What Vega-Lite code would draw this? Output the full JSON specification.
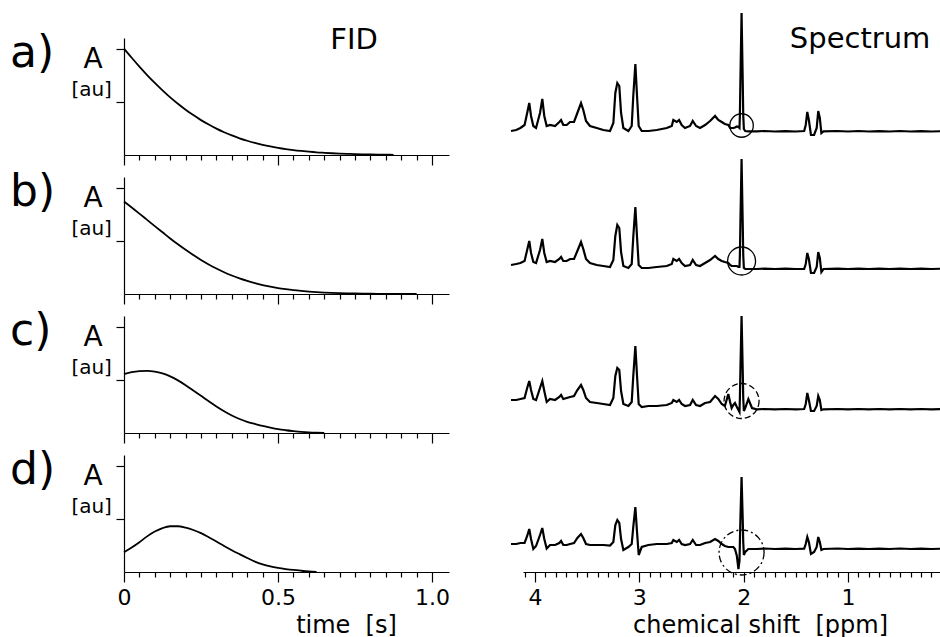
{
  "$schema": "https://vega.github.io/schema/vega-lite/v6.json",
  "padding": {"left": 10, "top": 8, "right": 0, "bottom": 0},
  "background": "white",
  "columns": 2,
  "spacing": {"row": 22, "column": 74},
  "bounds": "flush",
  "align": "each",
  "datasets": {
    "fid": [
      {"t": 0, "a": 1.0, "b": 0.87, "c": 0.553, "d": 0.186},
      {"t": 0.025, "a": 0.914, "b": 0.814, "c": 0.572, "d": 0.23},
      {"t": 0.05, "a": 0.831, "b": 0.756, "c": 0.582, "d": 0.28},
      {"t": 0.075, "a": 0.752, "b": 0.697, "c": 0.585, "d": 0.335},
      {"t": 0.1, "a": 0.678, "b": 0.638, "c": 0.578, "d": 0.38},
      {"t": 0.125, "a": 0.608, "b": 0.58, "c": 0.56, "d": 0.413},
      {"t": 0.15, "a": 0.542, "b": 0.522, "c": 0.532, "d": 0.43},
      {"t": 0.175, "a": 0.482, "b": 0.467, "c": 0.495, "d": 0.43},
      {"t": 0.2, "a": 0.426, "b": 0.415, "c": 0.45, "d": 0.417},
      {"t": 0.225, "a": 0.375, "b": 0.366, "c": 0.4, "d": 0.395},
      {"t": 0.25, "a": 0.328, "b": 0.32, "c": 0.35, "d": 0.365},
      {"t": 0.275, "a": 0.286, "b": 0.278, "c": 0.298, "d": 0.327},
      {"t": 0.3, "a": 0.248, "b": 0.24, "c": 0.25, "d": 0.287},
      {"t": 0.325, "a": 0.214, "b": 0.205, "c": 0.205, "d": 0.245},
      {"t": 0.35, "a": 0.184, "b": 0.174, "c": 0.165, "d": 0.205},
      {"t": 0.375, "a": 0.157, "b": 0.1465, "c": 0.132, "d": 0.168},
      {"t": 0.4, "a": 0.134, "b": 0.123, "c": 0.105, "d": 0.132},
      {"t": 0.425, "a": 0.1135, "b": 0.1018, "c": 0.085, "d": 0.098},
      {"t": 0.45, "a": 0.0957, "b": 0.0838, "c": 0.066, "d": 0.072},
      {"t": 0.475, "a": 0.0803, "b": 0.0686, "c": 0.05, "d": 0.053},
      {"t": 0.5, "a": 0.067, "b": 0.0556, "c": 0.036, "d": 0.039},
      {"t": 0.525, "a": 0.0556, "b": 0.045, "c": 0.026, "d": 0.028},
      {"t": 0.55, "a": 0.046, "b": 0.0358, "c": 0.018, "d": 0.019},
      {"t": 0.575, "a": 0.038, "b": 0.0285, "c": 0.011, "d": 0.012},
      {"t": 0.6, "a": 0.031, "b": 0.0224, "c": 0.006, "d": 0.006},
      {"t": 0.625, "a": 0.025, "b": 0.0175, "c": 0.003, "d": 0.002},
      {"t": 0.65, "a": 0.0206, "b": 0.0136, "c": 0.001, "d": null},
      {"t": 0.675, "a": 0.0166, "b": 0.0105, "c": null, "d": null},
      {"t": 0.7, "a": 0.0134, "b": 0.008, "c": null, "d": null},
      {"t": 0.725, "a": 0.0107, "b": 0.006, "c": null, "d": null},
      {"t": 0.75, "a": 0.0086, "b": 0.0045, "c": null, "d": null},
      {"t": 0.775, "a": 0.0068, "b": 0.0034, "c": null, "d": null},
      {"t": 0.8, "a": 0.0053, "b": 0.0025, "c": null, "d": null},
      {"t": 0.825, "a": 0.004, "b": 0.0018, "c": null, "d": null},
      {"t": 0.85, "a": 0.003, "b": 0.0013, "c": null, "d": null},
      {"t": 0.875, "a": 0.002, "b": 0.0009, "c": null, "d": null},
      {"t": 0.9, "a": null, "b": 0.0006, "c": null, "d": null},
      {"t": 0.925, "a": null, "b": 0.0003, "c": null, "d": null},
      {"t": 0.95, "a": null, "b": 0, "c": null, "d": null}
    ],
    "spec": [
      {"p": 4.23, "a": -1, "b": 4, "c": 8, "d": 3},
      {"p": 4.18, "a": 0, "b": 5, "c": 8, "d": 3},
      {"p": 4.14, "a": 2, "b": 6, "c": 9, "d": 4},
      {"p": 4.1, "a": 5, "b": 8, "c": 10, "d": 4},
      {"p": 4.075, "a": 17, "b": 19, "c": 20, "d": 11},
      {"p": 4.055, "a": 27, "b": 28, "c": 27, "d": 18},
      {"p": 4.038, "a": 14, "b": 16, "c": 18, "d": 8},
      {"p": 4.016, "a": 4, "b": 7, "c": 9, "d": -2},
      {"p": 3.99, "a": 2, "b": 6, "c": 8, "d": 1},
      {"p": 3.952, "a": 17, "b": 19, "c": 20, "d": 12},
      {"p": 3.93, "a": 31, "b": 30, "c": 27, "d": 19},
      {"p": 3.911, "a": 14, "b": 16, "c": 17, "d": 8},
      {"p": 3.888, "a": 4, "b": 7, "c": 6, "d": -1.5},
      {"p": 3.856, "a": 5, "b": 8, "c": 9, "d": 2},
      {"p": 3.808, "a": 4, "b": 7, "c": 8, "d": 2},
      {"p": 3.767, "a": 8, "b": 10, "c": 11, "d": 4},
      {"p": 3.75, "a": 10, "b": 12, "c": 13, "d": 6},
      {"p": 3.729, "a": 5, "b": 8, "c": 9, "d": 2},
      {"p": 3.696, "a": 5, "b": 8, "c": 10, "d": 2},
      {"p": 3.664, "a": 8, "b": 10, "c": 11, "d": 3},
      {"p": 3.626, "a": 8, "b": 10, "c": 12, "d": 4},
      {"p": 3.594, "a": 17, "b": 18, "c": 18, "d": 9},
      {"p": 3.559, "a": 27, "b": 27, "c": 23, "d": 13},
      {"p": 3.537, "a": 20, "b": 20, "c": 18, "d": 9},
      {"p": 3.511, "a": 9, "b": 10, "c": 10, "d": 3},
      {"p": 3.473, "a": 4, "b": 6, "c": 6, "d": 2},
      {"p": 3.408, "a": 2, "b": 4, "c": 5, "d": 2},
      {"p": 3.345, "a": 0, "b": 3, "c": 4, "d": 2},
      {"p": 3.281, "a": -1, "b": 2, "c": 3, "d": 1.5},
      {"p": 3.249, "a": 7, "b": 9, "c": 10, "d": 5},
      {"p": 3.23, "a": 37, "b": 33, "c": 32, "d": 22},
      {"p": 3.211, "a": 47, "b": 44, "c": 40, "d": 27},
      {"p": 3.192, "a": 44, "b": 41, "c": 38, "d": 24},
      {"p": 3.175, "a": 17, "b": 17, "c": 17, "d": 8},
      {"p": 3.153, "a": 2, "b": 3, "c": 4, "d": -3},
      {"p": 3.105, "a": -1, "b": 1, "c": 2, "d": 0},
      {"p": 3.073, "a": 4, "b": 5, "c": 6, "d": 3},
      {"p": 3.058, "a": 34, "b": 32, "c": 32, "d": 20},
      {"p": 3.038, "a": 66, "b": 62, "c": 62, "d": 40},
      {"p": 3.022, "a": 34, "b": 32, "c": 32, "d": 15},
      {"p": 3.006, "a": 4, "b": 4, "c": 4, "d": -8},
      {"p": 2.977, "a": -1, "b": 1, "c": 1, "d": 0},
      {"p": 2.914, "a": -1, "b": 1, "c": 2, "d": 2},
      {"p": 2.833, "a": 0, "b": 2, "c": 2, "d": 3},
      {"p": 2.737, "a": 2, "b": 3, "c": 3, "d": 3},
      {"p": 2.689, "a": 4, "b": 5, "c": 5, "d": 4},
      {"p": 2.674, "a": 10, "b": 10, "c": 8, "d": 7},
      {"p": 2.641, "a": 8, "b": 8, "c": 6, "d": 5},
      {"p": 2.619, "a": 10, "b": 10, "c": 8, "d": 7},
      {"p": 2.594, "a": 5, "b": 6, "c": 4, "d": 3},
      {"p": 2.562, "a": 2, "b": 3, "c": 2, "d": 2},
      {"p": 2.514, "a": 4, "b": 4, "c": 3, "d": 3},
      {"p": 2.488, "a": 9, "b": 9, "c": 8, "d": 7},
      {"p": 2.456, "a": 4, "b": 4, "c": 3, "d": 2},
      {"p": 2.418, "a": 2, "b": 3, "c": 2, "d": 2},
      {"p": 2.37, "a": 5, "b": 6, "c": 5, "d": 4},
      {"p": 2.322, "a": 9, "b": 9, "c": 6, "d": 5},
      {"p": 2.274, "a": 14, "b": 13, "c": 12, "d": 8},
      {"p": 2.243, "a": 10, "b": 10, "c": 9, "d": 6},
      {"p": 2.21, "a": 8, "b": 8, "c": 4, "d": 3},
      {"p": 2.18, "a": 6, "b": 7, "c": 2, "d": 1},
      {"p": 2.147, "a": 5, "b": 6, "c": 14, "d": 0},
      {"p": 2.13, "a": 2, "b": 4, "c": 6, "d": 0},
      {"p": 2.115, "a": 2, "b": 3, "c": 0, "d": 0},
      {"p": 2.099, "a": 2, "b": 3, "c": 3, "d": 0},
      {"p": 2.083, "a": 2.5, "b": 3, "c": 5, "d": -2},
      {"p": 2.065, "a": 3.5, "b": 3, "c": 1, "d": -9},
      {"p": 2.05, "a": 3, "b": 2, "c": -2, "d": -22},
      {"p": 2.04, "a": 2, "b": 2, "c": -4, "d": -14},
      {"p": 2.036, "a": 15, "b": 14, "c": 10, "d": 5},
      {"p": 2.031, "a": 50, "b": 46, "c": 38, "d": 28},
      {"p": 2.02, "a": 117, "b": 110, "c": 92, "d": 70},
      {"p": 2.009, "a": 50, "b": 46, "c": 38, "d": 28},
      {"p": 2.004, "a": 15, "b": 14, "c": 10, "d": 5},
      {"p": 1.998, "a": 1, "b": 1, "c": -3, "d": -8},
      {"p": 1.985, "a": -1, "b": 0, "c": 0, "d": -5},
      {"p": 1.955, "a": -1.3, "b": 0, "c": 9, "d": -2},
      {"p": 1.92, "a": -1.3, "b": 0, "c": 0, "d": -2},
      {"p": 1.875, "a": -1.3, "b": 0, "c": -1.3, "d": -2},
      {"p": 1.8, "a": -1, "b": 0.3, "c": -1, "d": -1.5},
      {"p": 1.7, "a": -1.5, "b": 0, "c": -1.3, "d": -2},
      {"p": 1.6, "a": -1.2, "b": 0.3, "c": -1, "d": -1.7},
      {"p": 1.5, "a": -1.5, "b": 0, "c": -1.3, "d": -2},
      {"p": 1.42, "a": -1, "b": 0, "c": -1, "d": -1.7},
      {"p": 1.405, "a": 5, "b": 5, "c": 4, "d": 3},
      {"p": 1.39, "a": 18, "b": 16, "c": 15, "d": 10},
      {"p": 1.375, "a": 10, "b": 10, "c": 8, "d": 5},
      {"p": 1.355, "a": -5, "b": -4, "c": -3, "d": -7},
      {"p": 1.325, "a": -5, "b": -4, "c": -3, "d": -5},
      {"p": 1.3, "a": 2, "b": 2, "c": 2, "d": 0},
      {"p": 1.285, "a": 19, "b": 17, "c": 12, "d": 10},
      {"p": 1.27, "a": 12, "b": 11, "c": 8, "d": 5},
      {"p": 1.255, "a": -3, "b": -3, "c": -2, "d": -3},
      {"p": 1.235, "a": -1.3, "b": 0, "c": -1.3, "d": -2},
      {"p": 1.1, "a": -1, "b": 0.3, "c": -1, "d": -1.5},
      {"p": 1.0, "a": -1.5, "b": 0, "c": -1.3, "d": -2},
      {"p": 0.9, "a": -1, "b": 0.3, "c": -1, "d": -1.7},
      {"p": 0.8, "a": -1.5, "b": 0, "c": -1.3, "d": -2},
      {"p": 0.7, "a": -1.2, "b": 0.3, "c": -1, "d": -1.7},
      {"p": 0.6, "a": -1.5, "b": 0, "c": -1.3, "d": -2},
      {"p": 0.5, "a": -1, "b": 0.3, "c": -1, "d": -1.5},
      {"p": 0.4, "a": -1.5, "b": 0, "c": -1.3, "d": -2},
      {"p": 0.3, "a": -1.2, "b": 0.3, "c": -1, "d": -1.7},
      {"p": 0.2, "a": -1.5, "b": 0, "c": -1.3, "d": -2},
      {"p": 0.1, "a": -1.2, "b": 0.3, "c": -1, "d": -1.7}
    ]
  },
  "concat": [
    {
      "width": 325, "height": 117,
      "resolve": {"axis": {"x": "independent", "y": "independent"}},
      "layer": [
        {"data": {"name": "fid"}, "mark": {"type": "line", "color": "#000", "strokeWidth": 1.8, "interpolate": "monotone"},
         "encoding": {
           "x": {"field": "t", "type": "quantitative", "scale": {"domain": [0, 1.055], "nice": false, "zero": false},
                 "axis": {"values": [0,0.05,0.1,0.15,0.2,0.25,0.3,0.35,0.4,0.45,0.5,0.55,0.6,0.65,0.7,0.75,0.8,0.85,0.9,0.95,1], "tickSize": {"condition": {"test": "datum.value % 0.5 === 0", "value": 10}, "value": 5}, "labels": false, "title": null}},
           "y": {"field": "a", "type": "quantitative", "scale": {"domain": [0, 1.1], "nice": false}, "axis": {"values": [0.5, 1], "tickSize": 8, "labels": false, "title": null}}}},
        {"data": {"values": [{"label": "a)"}]}, "mark": {"type": "text", "fontSize": 44, "align": "left", "baseline": "alphabetic"},
         "encoding": {"x": {"datum": -0.37, "type": "quantitative", "axis": null}, "y": {"datum": 0.83, "type": "quantitative", "axis": null}, "text": {"field": "label"}}},
        {"data": {"values": [{"label": "A"}]}, "mark": {"type": "text", "fontSize": 28, "align": "center", "baseline": "alphabetic"},
         "encoding": {"x": {"datum": -0.1, "type": "quantitative", "axis": null}, "y": {"datum": 0.82, "type": "quantitative", "axis": null}, "text": {"field": "label"}}},
        {"data": {"values": [{"label": "[au]"}]}, "mark": {"type": "text", "fontSize": 20, "align": "center", "baseline": "alphabetic"},
         "encoding": {"x": {"datum": -0.105, "type": "quantitative", "axis": null}, "y": {"datum": 0.553, "type": "quantitative", "axis": null}, "text": {"field": "label"}}},
        {"data": {"values": [{"label": "FID"}]}, "mark": {"type": "text", "fontSize": 29, "align": "center", "baseline": "alphabetic"},
         "encoding": {"x": {"datum": 0.747, "type": "quantitative", "axis": null}, "y": {"datum": 1.0, "type": "quantitative", "axis": null}, "text": {"field": "label"}}}
      ]
    },
    {
      "width": 417, "height": 117,
      "resolve": {"axis": {"x": "independent", "y": "independent"}},
      "layer": [
        {"data": {"name": "spec"}, "mark": {"type": "line", "color": "#000", "strokeWidth": 2.2},
         "encoding": {
           "x": {"field": "p", "type": "quantitative", "scale": {"domain": [0.118, 4.115], "reverse": true, "nice": false, "zero": false}, "axis": null},
           "y": {"field": "a", "type": "quantitative", "scale": {"domain": [-25, 92], "nice": false, "zero": false}, "axis": null}}},
        {"data": {"values": [{}]}, "mark": {"type": "point", "shape": "circle", "filled": false, "color": "#000", "strokeWidth": 1.3, "size": 552, "opacity": 1},
         "encoding": {"x": {"datum": 2.02, "type": "quantitative", "axis": null}, "y": {"datum": 4.5, "type": "quantitative", "axis": null}}},
        {"data": {"values": [{"label": "Spectrum"}]}, "mark": {"type": "text", "fontSize": 29, "align": "center", "baseline": "alphabetic"},
         "encoding": {"x": {"datum": 0.884, "type": "quantitative", "axis": null}, "y": {"datum": 82, "type": "quantitative", "axis": null}, "text": {"field": "label"}}}
      ]
    },
    {
      "width": 325, "height": 117,
      "resolve": {"axis": {"x": "independent", "y": "independent"}},
      "layer": [
        {"data": {"name": "fid"}, "mark": {"type": "line", "color": "#000", "strokeWidth": 1.8, "interpolate": "monotone"},
         "encoding": {
           "x": {"field": "t", "type": "quantitative", "scale": {"domain": [0, 1.055], "nice": false, "zero": false},
                 "axis": {"values": [0,0.05,0.1,0.15,0.2,0.25,0.3,0.35,0.4,0.45,0.5,0.55,0.6,0.65,0.7,0.75,0.8,0.85,0.9,0.95,1], "tickSize": {"condition": {"test": "datum.value % 0.5 === 0", "value": 10}, "value": 5}, "labels": false, "title": null}},
           "y": {"field": "b", "type": "quantitative", "scale": {"domain": [0, 1.1], "nice": false}, "axis": {"values": [0.5, 1], "tickSize": 8, "labels": false, "title": null}}}},
        {"data": {"values": [{"label": "b)"}]}, "mark": {"type": "text", "fontSize": 44, "align": "left", "baseline": "alphabetic"},
         "encoding": {"x": {"datum": -0.37, "type": "quantitative", "axis": null}, "y": {"datum": 0.83, "type": "quantitative", "axis": null}, "text": {"field": "label"}}},
        {"data": {"values": [{"label": "A"}]}, "mark": {"type": "text", "fontSize": 28, "align": "center", "baseline": "alphabetic"},
         "encoding": {"x": {"datum": -0.1, "type": "quantitative", "axis": null}, "y": {"datum": 0.82, "type": "quantitative", "axis": null}, "text": {"field": "label"}}},
        {"data": {"values": [{"label": "[au]"}]}, "mark": {"type": "text", "fontSize": 20, "align": "center", "baseline": "alphabetic"},
         "encoding": {"x": {"datum": -0.105, "type": "quantitative", "axis": null}, "y": {"datum": 0.553, "type": "quantitative", "axis": null}, "text": {"field": "label"}}}
      ]
    },
    {
      "width": 417, "height": 117,
      "resolve": {"axis": {"x": "independent", "y": "independent"}},
      "layer": [
        {"data": {"name": "spec"}, "mark": {"type": "line", "color": "#000", "strokeWidth": 2.2},
         "encoding": {
           "x": {"field": "p", "type": "quantitative", "scale": {"domain": [0.118, 4.115], "reverse": true, "nice": false, "zero": false}, "axis": null},
           "y": {"field": "b", "type": "quantitative", "scale": {"domain": [-25, 92], "nice": false, "zero": false}, "axis": null}}},
        {"data": {"values": [{}]}, "mark": {"type": "point", "shape": "circle", "filled": false, "color": "#000", "strokeWidth": 1.3, "size": 784, "opacity": 1},
         "encoding": {"x": {"datum": 2.02, "type": "quantitative", "axis": null}, "y": {"datum": 8, "type": "quantitative", "axis": null}}}
      ]
    },
    {
      "width": 325, "height": 117,
      "resolve": {"axis": {"x": "independent", "y": "independent"}},
      "layer": [
        {"data": {"name": "fid"}, "mark": {"type": "line", "color": "#000", "strokeWidth": 1.8, "interpolate": "monotone"},
         "encoding": {
           "x": {"field": "t", "type": "quantitative", "scale": {"domain": [0, 1.055], "nice": false, "zero": false},
                 "axis": {"values": [0,0.05,0.1,0.15,0.2,0.25,0.3,0.35,0.4,0.45,0.5,0.55,0.6,0.65,0.7,0.75,0.8,0.85,0.9,0.95,1], "tickSize": {"condition": {"test": "datum.value % 0.5 === 0", "value": 10}, "value": 5}, "labels": false, "title": null}},
           "y": {"field": "c", "type": "quantitative", "scale": {"domain": [0, 1.1], "nice": false}, "axis": {"values": [0.5, 1], "tickSize": 8, "labels": false, "title": null}}}},
        {"data": {"values": [{"label": "c)"}]}, "mark": {"type": "text", "fontSize": 44, "align": "left", "baseline": "alphabetic"},
         "encoding": {"x": {"datum": -0.37, "type": "quantitative", "axis": null}, "y": {"datum": 0.83, "type": "quantitative", "axis": null}, "text": {"field": "label"}}},
        {"data": {"values": [{"label": "A"}]}, "mark": {"type": "text", "fontSize": 28, "align": "center", "baseline": "alphabetic"},
         "encoding": {"x": {"datum": -0.1, "type": "quantitative", "axis": null}, "y": {"datum": 0.82, "type": "quantitative", "axis": null}, "text": {"field": "label"}}},
        {"data": {"values": [{"label": "[au]"}]}, "mark": {"type": "text", "fontSize": 20, "align": "center", "baseline": "alphabetic"},
         "encoding": {"x": {"datum": -0.105, "type": "quantitative", "axis": null}, "y": {"datum": 0.553, "type": "quantitative", "axis": null}, "text": {"field": "label"}}}
      ]
    },
    {
      "width": 417, "height": 117,
      "resolve": {"axis": {"x": "independent", "y": "independent"}},
      "layer": [
        {"data": {"name": "spec"}, "mark": {"type": "line", "color": "#000", "strokeWidth": 2.2},
         "encoding": {
           "x": {"field": "p", "type": "quantitative", "scale": {"domain": [0.118, 4.115], "reverse": true, "nice": false, "zero": false}, "axis": null},
           "y": {"field": "c", "type": "quantitative", "scale": {"domain": [-25, 92], "nice": false, "zero": false}, "axis": null}}},
        {"data": {"values": [{}]}, "mark": {"type": "point", "shape": "circle", "filled": false, "color": "#000", "strokeWidth": 1.3, "size": 1225, "opacity": 1, "strokeDash": [6, 3]},
         "encoding": {"x": {"datum": 2.02, "type": "quantitative", "axis": null}, "y": {"datum": 7, "type": "quantitative", "axis": null}}}
      ]
    },
    {
      "width": 325, "height": 117,
      "resolve": {"axis": {"x": "independent", "y": "independent"}},
      "layer": [
        {"data": {"name": "fid"}, "mark": {"type": "line", "color": "#000", "strokeWidth": 1.8, "interpolate": "monotone"},
         "encoding": {
           "x": {"field": "t", "type": "quantitative", "scale": {"domain": [0, 1.055], "nice": false, "zero": false},
                 "axis": {"values": [0,0.05,0.1,0.15,0.2,0.25,0.3,0.35,0.4,0.45,0.5,0.55,0.6,0.65,0.7,0.75,0.8,0.85,0.9,0.95,1], "tickSize": {"condition": {"test": "datum.value % 0.5 === 0", "value": 10}, "value": 5},
                          "labelExpr": "datum.value === 0 ? '0' : datum.value === 0.5 ? '0.5' : datum.value === 1 ? '1.0' : ''", "labelFontSize": 22, "labelBaseline": "alphabetic", "labelPadding": 22, "labelOverlap": false, "labelFlush": false,
                          "title": "time\u00a0\u00a0[s]", "titleFontSize": 24, "titleX": 222, "titleY": 60, "titleBaseline": "alphabetic", "titleAlign": "center"}},
           "y": {"field": "d", "type": "quantitative", "scale": {"domain": [0, 1.1], "nice": false}, "axis": {"values": [0.5, 1], "tickSize": 8, "labels": false, "title": null}}}},
        {"data": {"values": [{"label": "d)"}]}, "mark": {"type": "text", "fontSize": 44, "align": "left", "baseline": "alphabetic"},
         "encoding": {"x": {"datum": -0.37, "type": "quantitative", "axis": null}, "y": {"datum": 0.83, "type": "quantitative", "axis": null}, "text": {"field": "label"}}},
        {"data": {"values": [{"label": "A"}]}, "mark": {"type": "text", "fontSize": 28, "align": "center", "baseline": "alphabetic"},
         "encoding": {"x": {"datum": -0.1, "type": "quantitative", "axis": null}, "y": {"datum": 0.82, "type": "quantitative", "axis": null}, "text": {"field": "label"}}},
        {"data": {"values": [{"label": "[au]"}]}, "mark": {"type": "text", "fontSize": 20, "align": "center", "baseline": "alphabetic"},
         "encoding": {"x": {"datum": -0.105, "type": "quantitative", "axis": null}, "y": {"datum": 0.553, "type": "quantitative", "axis": null}, "text": {"field": "label"}}}
      ]
    },
    {
      "width": 417, "height": 117,
      "resolve": {"axis": {"x": "independent", "y": "independent"}},
      "layer": [
        {"data": {"name": "spec"}, "mark": {"type": "line", "color": "#000", "strokeWidth": 2.2},
         "encoding": {
           "x": {"field": "p", "type": "quantitative", "scale": {"domain": [0.118, 4.115], "reverse": true, "nice": false, "zero": false},
                 "axis": {"values": [4.1,4,3.9,3.8,3.7,3.6,3.5,3.4,3.3,3.2,3.1,3,2.9,2.8,2.7,2.6,2.5,2.4,2.3,2.2,2.1,2,1.9,1.8,1.7,1.6,1.5,1.4,1.3,1.2,1.1,1,0.9,0.8,0.7,0.6,0.5,0.4,0.3,0.2],
                          "tickSize": {"condition": {"test": "datum.value % 1 === 0", "value": 10}, "value": 5},
                          "labelExpr": "datum.value % 1 === 0 ? format(datum.value, 'd') : ''", "labelFontSize": 22, "labelBaseline": "alphabetic", "labelPadding": 22, "labelOverlap": false, "labelFlush": false,
                          "title": "chemical shift\u00a0\u00a0[ppm]", "titleFontSize": 24, "titleX": 237, "titleY": 60, "titleBaseline": "alphabetic", "titleAlign": "center"}},
           "y": {"field": "d", "type": "quantitative", "scale": {"domain": [-25, 92], "nice": false, "zero": false}, "axis": null}}},
        {"data": {"values": [{}]}, "mark": {"type": "point", "shape": "circle", "filled": false, "color": "#000", "strokeWidth": 1.3, "size": 2025, "opacity": 1, "strokeDash": [7, 3, 2, 3]},
         "encoding": {"x": {"datum": 2.02, "type": "quantitative", "axis": null}, "y": {"datum": -5.5, "type": "quantitative", "axis": null}}}
      ]
    }
  ],
  "config": {
    "view": {"stroke": null},
    "font": "DejaVu Sans",
    "text": {"color": "#000"},
    "axis": {"domainColor": "#000", "tickColor": "#000", "labelColor": "#000", "titleColor": "#000", "labelFontSize": 23, "titleFontSize": 27, "titleFontWeight": "normal", "domainWidth": 1.2, "tickWidth": 1.2, "grid": false, "labelFont": "DejaVu Sans", "titleFont": "DejaVu Sans"}
  }
}
